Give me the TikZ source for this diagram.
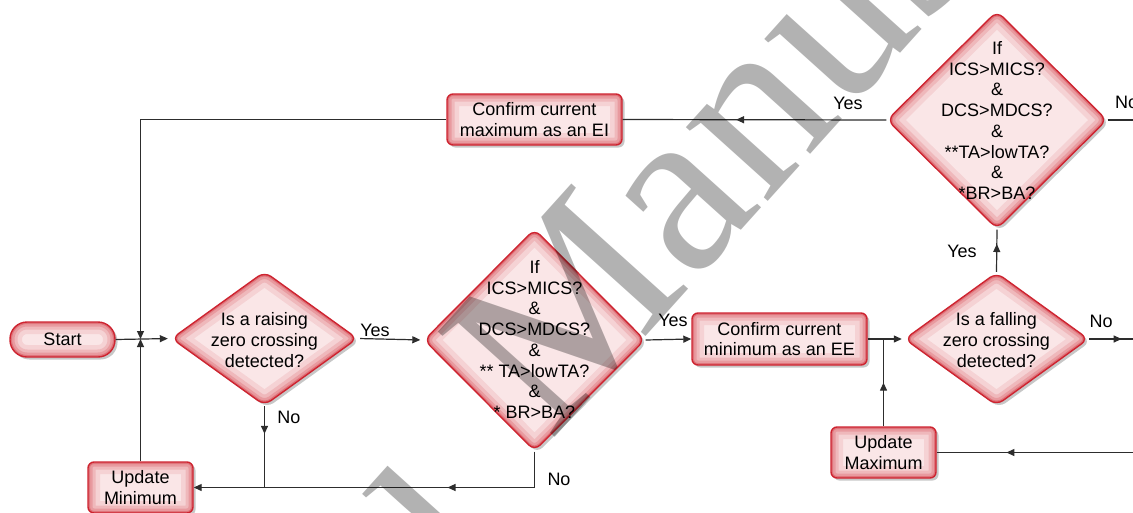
\documentclass[tikz,border=0pt]{standalone}
\usepackage{fontspec}
\setmainfont{Liberation Sans}
\newfontfamily\wmfont{Liberation Serif}
\usetikzlibrary{shapes.geometric, arrows.meta, shadows, decorations.markings}
\definecolor{redE}{RGB}{206,36,48}
\definecolor{pinkF}{RGB}{250,230,231}
\definecolor{lineC}{RGB}{45,45,45}
\tikzset{
  shadowsoft/.style={drop shadow={shadow xshift=2.5pt, shadow yshift=-2.5pt, opacity=0.22, fill=black}},
  boxshape/.style={rectangle, rounded corners=6pt, fill=pinkF, draw=redE, line width=1.4pt,
    inner sep=0pt, align=center, font=\fontsize{18}{20.5}\selectfont, shadowsoft,
    path picture={
      \foreach \w/\o in {24/0.10, 15/0.15, 9/0.2, 4/0.32}
        \draw[redE, line width=\w pt, draw opacity=\o, rounded corners=6pt]
          (path picture bounding box.south west) rectangle (path picture bounding box.north east);
    }},
  pill/.style={boxshape, rounded corners=17pt,
    path picture={
      \foreach \w/\o in {24/0.10, 15/0.15, 9/0.2, 4/0.32}
        \draw[redE, line width=\w pt, draw opacity=\o, rounded corners=17pt]
          (path picture bounding box.south west) rectangle (path picture bounding box.north east);
    }},
  diashape/.style={diamond, rounded corners=8pt, fill=pinkF, draw=redE, line width=1.4pt,
    inner sep=0pt, shadowsoft,
    path picture={
      \foreach \w/\o in {26/0.10, 16/0.15, 9/0.2, 4/0.32}
        \draw[redE, line width=\w pt, draw opacity=\o, rounded corners=8pt]
          (path picture bounding box.north) -- (path picture bounding box.east) --
          (path picture bounding box.south) -- (path picture bounding box.west) -- cycle;
    }},
  txt/.style={align=center, inner sep=0pt, font=\fontsize{18}{20.7}\selectfont},
  lbl/.style={inner sep=0pt, font=\fontsize{18}{20}\selectfont},
  conn/.style={draw=lineC, line width=1.2pt},
  tip/.style={-{Triangle[length=8pt,width=7pt]}},
  midtip/.style={postaction={decorate, decoration={markings,
      mark=at position #1 with {\arrow[lineC]{Triangle[length=8pt,width=7pt]}}}}},
  wm/.style={font=\wmfont\fontsize{240}{240}\selectfont, text=black, text opacity=0.3, inner sep=0pt}
}
\begin{document}
\begin{tikzpicture}[x=1pt, y=-1pt]
\useasboundingbox (0,0) rectangle (1133,512);
\clip (0,0) rectangle (1133,512);
\fill[white] (0,0) rectangle (1133,512);

% shapes
\node[pill, minimum width=105pt, minimum height=35pt] (start) at (62.5,339.5) {Start};
\node[diashape, minimum width=186pt, minimum height=134pt] (d1) at (264.5,338.5) {};
\node[txt] (d1t) at (264.5,340) {Is a raising\\zero crossing\\detected?};
\node[diashape, minimum width=221pt, minimum height=222pt] (d2) at (534.5,340) {};
\node[txt] (d2t) at (534.5,339.5) {If\\ICS>MICS?\\\&\\DCS>MDCS?\\\&\\** TA>lowTA?\\\&\\* BR>BA?};
\node[boxshape, minimum width=175pt, minimum height=52pt] (ee) at (779.5,339) {Confirm current\\minimum as an EE};
\node[diashape, minimum width=184pt, minimum height=133pt] (d4) at (996.5,339) {};
\node[txt] (d4t) at (996.5,340) {Is a falling\\zero crossing\\detected?};
\node[diashape, minimum width=220pt, minimum height=218pt] (d3) at (997,120) {};
\node[txt] (d3t) at (997,120.5) {If\\ICS>MICS?\\\&\\DCS>MDCS?\\\&\\**TA>lowTA?\\\&\\*BR>BA?};
\node[boxshape, minimum width=175pt, minimum height=51pt] (ei) at (534.5,119.5) {Confirm current\\maximum as an EI};
\node[boxshape, minimum width=105pt, minimum height=51pt] (umin) at (140.5,487.5) {Update\\Minimum};
\node[boxshape, minimum width=105pt, minimum height=51pt] (umax) at (883.5,452.5) {Update\\Maximum};

% helper points
\coordinate (jl) at (140.5,339);
\coordinate (tl) at (140.5,119.5);
\coordinate (jr) at (883.5,339);
\coordinate (bl) at (264.5,487.5);
\coordinate (br) at (534.5,487.5);
\coordinate (eR) at (1133,339);
\coordinate (nR) at (1133,120);
\coordinate (mR) at (1133,452.5);

% connectors
\draw[conn, tip] (ei.west) -- (tl) -- (jl);
\draw[conn, tip] (umin.north) -- (jl);
\draw[conn, tip, shorten >=3pt] (start.east) -- (d1.west);
\draw[conn, tip, shorten <=2pt, shorten >=3pt] (d1.east) -- (d2.west);
\draw[conn, tip] (d2.east) -- (ee.west);
\draw[conn, tip, shorten >=2pt] (ee.east) -- (d4.west);
\draw[conn, midtip=0.5] (umax.north) -- (jr);
\draw[conn, midtip=0.74] (d4.east) -- (eR);
\draw[conn, midtip=0.66] (d4.north) -- (d3.south);
\draw[conn, midtip=0.57] (d3.west) -- (ei.east);
\draw[conn] (d3.east) -- (nR);
\draw[conn, midtip=0.34] (d1.south) -- (bl);
\draw[conn, tip, midtip=0.326] (d2.south) -- (br) -- (umin.east);
\draw[conn, midtip=0.645] (mR) -- (umax.east);

% labels
\node[lbl] (y1) at (375,330) {Yes};
\node[lbl] (y2) at (673,320) {Yes};
\node[lbl] (n4) at (1101,321) {No};
\node[lbl] (y4) at (962,251) {Yes};
\node[lbl] (y3) at (848,103) {Yes};
\node[lbl, anchor=west] (n3) at (1115,102) {No};
\node[lbl] (n2) at (559,479) {No};
\node[lbl] (n1) at (289,417) {No};

% watermark
\node[wm, anchor=base west, rotate=48] (wmb) at (550,443) {Manuscript};
\node[wm, anchor=base east, rotate=48] (wma) at (523,565) {Accepted};
\end{tikzpicture}
\end{document}
